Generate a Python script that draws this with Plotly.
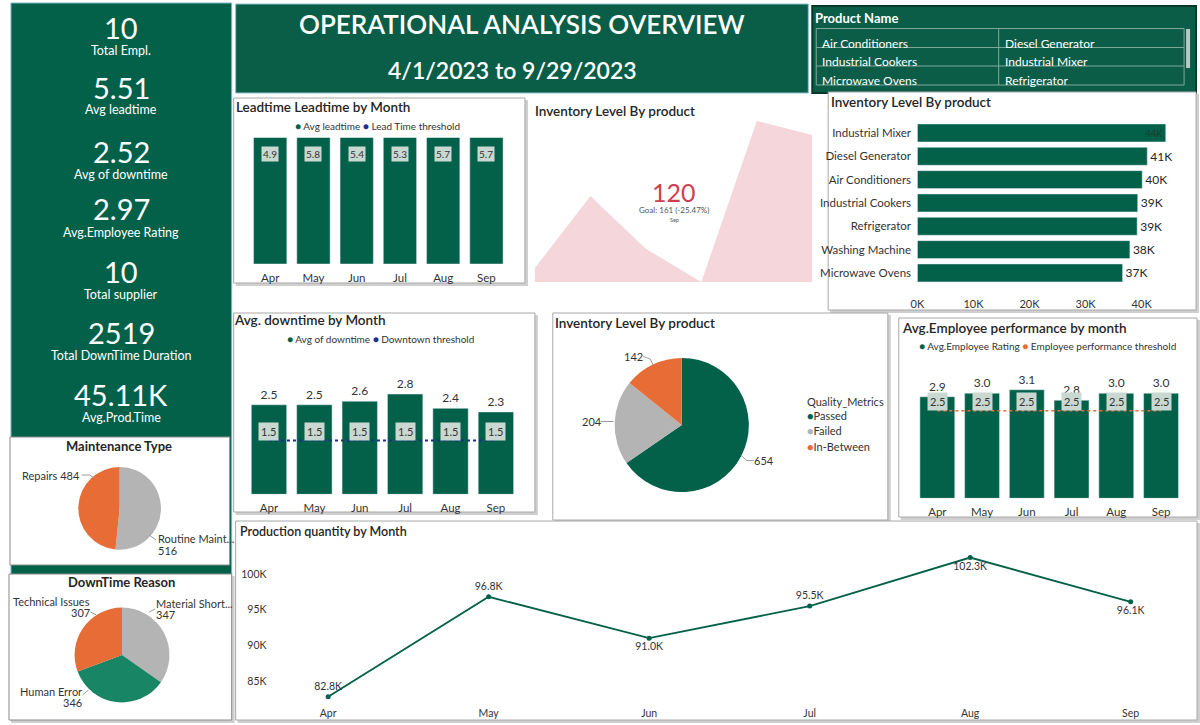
import plotly.graph_objects as go

W, H = 1200, 725
def fx(px): return px / W
def fy(py): return 1 - py / H

FONT = 'Lato'
GREEN = '#03614A'
GREEN2 = '#188565'
ORANGE = '#E86C36'
GRAY = '#B4B4B4'
NAVY = '#1F2E8A'
TXT = '#252525'
BOX = '#C9D8D1'
PINK = '#F5D6DB'
RED = '#D13F52'

# ---------------- data ----------------
months = ['Apr', 'May', 'Jun', 'Jul', 'Aug', 'Sep']
lead_avg = [4.9, 5.8, 5.4, 5.3, 5.7, 5.7]
down_avg = [2.5, 2.5, 2.6, 2.8, 2.4, 2.3]
down_thr = [1.5, 1.5, 1.5, 1.5, 1.5, 1.5]
emp_avg = [2.9, 3.0, 3.1, 2.8, 3.0, 3.0]
emp_thr = [2.5, 2.5, 2.5, 2.5, 2.5, 2.5]
prod_qty = [82800, 96800, 91000, 95500, 102300, 96100]

inv_products = ['Industrial Mixer', 'Diesel Generator', 'Air Conditioners', 'Industrial Cookers',
                'Refrigerator', 'Washing Machine', 'Microwave Ovens']
inv_levels = [44300, 41000, 40100, 39300, 39200, 37900, 36600]

inv_trend = [72, 98, 79, 67, 125, 120]
inv_current = 120
inv_goal = 161

quality_labels = ['Passed', 'Failed', 'In-Between']
quality_values = [654, 204, 142]

maint_labels = ['Routine Maintenance', 'Repairs']
maint_values = [516, 484]

reason_labels = ['Material Shortage', 'Human Error', 'Technical Issues']
reason_values = [347, 346, 307]

kpi_values = ['10', '5.51', '2.52', '2.97', '10', '2519', '45.11K']
kpi_labels = ['Total Empl.', 'Avg leadtime', 'Avg of downtime', 'Avg.Employee Rating',
              'Total supplier', 'Total DownTime Duration', 'Avg.Prod.Time']

slicer_products = ['Air Conditioners', 'Diesel Generator', 'Industrial Cookers',
                   'Industrial Mixer', 'Microwave Ovens', 'Refrigerator']

# ---------------- helpers ----------------
fig = go.Figure()
shapes = []
ann = []

def rect(x0, y0, x1, y1, fill='white', line='#A8A8A8', width=1, shadow=True):
    if shadow:
        shapes.append(dict(type='rect', xref='paper', yref='paper', x0=fx(x0 + 2), x1=fx(x1 + 3),
                           y0=fy(y1 + 3), y1=fy(y0 + 2), fillcolor='#CFCFCF', line=dict(width=0), layer='below'))
    shapes.append(dict(type='rect', xref='paper', yref='paper', x0=fx(x0), x1=fx(x1),
                       y0=fy(y1), y1=fy(y0), fillcolor=fill, line=dict(color=line, width=width), layer='below'))

def hline(x0, x1, y, color, width=1):
    shapes.append(dict(type='line', xref='paper', yref='paper', x0=fx(x0), x1=fx(x1), y0=fy(y), y1=fy(y),
                       line=dict(color=color, width=width)))

def vline(x, y0, y1, color, width=1):
    shapes.append(dict(type='line', xref='paper', yref='paper', x0=fx(x), x1=fx(x), y0=fy(y0), y1=fy(y1),
                       line=dict(color=color, width=width)))

def seg(x0, y0, x1, y1, color='#9A9A9A'):
    shapes.append(dict(type='line', xref='paper', yref='paper', x0=fx(x0), x1=fx(x1), y0=fy(y0), y1=fy(y1),
                       line=dict(color=color, width=1)))

def text(px, py, s, size=12, color=TXT, xanchor='center', weight=None, **kw):
    f = dict(family=FONT, size=size, color=color)
    if weight:
        f['weight'] = weight
    if xanchor == 'left':
        px -= 2
    elif xanchor == 'right':
        px += 2
    ann.append(dict(x=fx(px), y=fy(py), xref='paper', yref='paper', text=s, showarrow=False,
                    xanchor=xanchor, yanchor='middle', font=f, **kw))

def dot(c):
    return f"<span style='color:{c}'>●</span>"

# ---------------- panels ----------------
rect(4, 3, 226, 576, fill=GREEN, line='#7FB7C8', shadow=False)
rect(230, 4, 806, 93, fill='#0A5E48', line='#8FC3D3', shadow=False)
rect(810, 6, 1196, 93, fill='#0C5D48', line='#06392C', width=2, shadow=False)
rect(228, 98, 521, 283)
rect(826, 92, 1196, 310)
rect(228, 313, 531, 512)
rect(549, 313, 886, 520)
rect(897, 318, 1197, 517)
rect(230, 521, 1197, 720)
rect(3, 437, 224, 565, shadow=False, line='#8A8A8A')
rect(2, 574, 226, 720, line='#8A8A8A')

# ---------------- KPI texts ----------------
kpi_num_y = [28, 87, 151, 209, 272, 332, 394]
kpi_lab_y = [51, 110, 174, 232, 294, 355, 418]
for v, l, yn, yl in zip(kpi_values, kpi_labels, kpi_num_y, kpi_lab_y):
    text(115, yn, v, size=29, color='white')
    text(115, yl, l, size=12.5, color='white')

# ---------------- Title ----------------
text(518, 24, 'OPERATIONAL ANALYSIS OVERVIEW', size=26, color='white', weight=600)
text(508, 70, '4/1/2023 to 9/29/2023', size=23, color='white', weight=600)

# ---------------- Slicer ----------------
text(813, 18, 'Product Name', size=13, color='white', xanchor='left', weight=700)
for yy in [28.5, 47.5, 66, 85]:
    hline(814, 1184, yy, '#7FA898')
vline(814, 28.5, 85, '#7FA898')
vline(1184, 28.5, 85, '#7FA898')
vline(997.5, 28.5, 85, '#7FA898')
shapes.append(dict(type='rect', xref='paper', yref='paper', x0=fx(1186), x1=fx(1190), y0=fy(68), y1=fy(29),
                   fillcolor='#B8C8C2', line=dict(width=0)))
slicer_pos = [(820, 43), (1004, 43), (820, 61.5), (1004, 61.5), (820, 80.5), (1004, 80.5)]
for name, (px, py) in zip(slicer_products, slicer_pos):
    text(px, py, name, size=12, color='white', xanchor='left')

# ---------------- Leadtime chart ----------------
fig.add_trace(go.Bar(x=months, y=lead_avg, marker_color=GREEN, width=0.77, xaxis='x', yaxis='y',
                     hoverinfo='skip', showlegend=False))
text(230, 106.5, 'Leadtime Leadtime by Month', size=13.5, xanchor='left', weight=600)
text(373, 125.5, f"{dot(GREEN)} Avg leadtime {dot(NAVY)} Lead Time threshold", size=10, color='#333')
for m, v in zip(months, lead_avg):
    ann.append(dict(x=m, xref='x', y=fy(146), yref='paper', text=f'{v:.1f}', showarrow=False,
                    bgcolor=BOX, borderpad=1, font=dict(family=FONT, size=10, color='#333')))

# ---------------- Inventory KPI area ----------------
fig.add_trace(go.Scatter(x=list(range(len(months))), y=inv_trend, mode='lines', fill='tozeroy',
                         line=dict(width=0, color=PINK), fillcolor=PINK, xaxis='x2', yaxis='y2',
                         hoverinfo='skip', showlegend=False))
text(531, 111, 'Inventory Level By product', size=13.5, xanchor='left', weight=600)
text(671, 192, f'{inv_current}', size=25, color=RED)
pct = (inv_current - inv_goal) / inv_goal * 100
text(671, 210.5, f'Goal: {inv_goal} ({pct:.2f}%)', size=8, color='#555')
text(671, 219.5, months[-1], size=5.5, color='#555')

# ---------------- Inventory bar chart ----------------
inv_text = [f'{v / 1000:.0f}K' for v in inv_levels]
fig.add_trace(go.Bar(y=inv_products, x=inv_levels, orientation='h', marker_color=GREEN, width=0.77,
                     text=inv_text, textposition=['inside'] + ['outside'] * (len(inv_levels) - 1),
                     insidetextanchor='end', insidetextfont=dict(family=FONT, size=12, color='#1F3A30'),
                     outsidetextfont=dict(family=FONT, size=12, color=TXT), cliponaxis=False,
                     xaxis='x3', yaxis='y3', hoverinfo='skip', showlegend=False))
text(829, 101.5, 'Inventory Level By product', size=13.5, xanchor='left', weight=600)

# ---------------- Downtime chart ----------------
fig.add_trace(go.Bar(x=months, y=down_avg, marker_color=GREEN, width=0.78, text=[f'{v:.1f}' for v in down_avg],
                     textposition='outside', textfont=dict(family=FONT, size=12, color='#333'),
                     cliponaxis=False, xaxis='x4', yaxis='y4', hoverinfo='skip', showlegend=False))
fig.add_trace(go.Scatter(x=months, y=down_thr, mode='lines', line=dict(color=NAVY, width=2, dash='dot'),
                         xaxis='x4', yaxis='y4', hoverinfo='skip', showlegend=False))
for m, v in zip(months, down_thr):
    ann.append(dict(x=m, xref='x4', y=v, yref='y4', yshift=9, text=f'{v:.1f}', showarrow=False,
                    bgcolor=BOX, borderpad=2, font=dict(family=FONT, size=11, color='#333')))
text(228, 320, 'Avg. downtime by Month', size=13.5, xanchor='left', weight=600)
text(376, 338.5, f"{dot(GREEN)} Avg of downtime {dot(NAVY)} Downtown threshold", size=10, color='#333')

# ---------------- Quality pie ----------------
fig.add_trace(go.Pie(labels=quality_labels, values=quality_values, sort=False, direction='clockwise',
                     rotation=0, textinfo='none', marker=dict(colors=[GREEN, GRAY, ORANGE], line=dict(width=0)),
                     domain=dict(x=[fx(611.2), fx(746.2)], y=[fy(492.5), fy(357.5)]),
                     hoverinfo='skip', showlegend=False))
text(551, 322.5, 'Inventory Level By product', size=13.5, xanchor='left', weight=600)
q_pos = [(761, 460.5), (588, 421.5), (630, 356.5)]
for v, (px, py) in zip(quality_values, q_pos):
    text(px, py, str(v), size=11, color='#333')
seg(640, 356.5, 647, 359)
seg(647, 359, 650, 365)
seg(597, 421.5, 610, 421.5)
seg(738, 455, 744, 460.5)
seg(744, 460.5, 751, 460.5)
text(805, 401.5, 'Quality_Metrics', size=11, color='#333', xanchor='left')
for lab, c, py in zip(quality_labels, [GREEN, GRAY, ORANGE], [415.5, 430.5, 446]):
    text(805, py, f"{dot(c)}{lab}", size=11, color='#333', xanchor='left')

# ---------------- Employee chart ----------------
fig.add_trace(go.Bar(x=months, y=emp_avg, marker_color=GREEN, width=0.78, text=[f'{v:.1f}' for v in emp_avg],
                     textposition='outside', textfont=dict(family=FONT, size=12, color='#333'),
                     cliponaxis=False, xaxis='x5', yaxis='y5', hoverinfo='skip', showlegend=False))
fig.add_trace(go.Scatter(x=months, y=emp_thr, mode='lines', line=dict(color=ORANGE, width=1.5, dash='3px,3px'),
                         xaxis='x5', yaxis='y5', hoverinfo='skip', showlegend=False))
for m, v in zip(months, emp_thr):
    ann.append(dict(x=m, xref='x5', y=v, yref='y5', yshift=9, text=f'{v:.1f}', showarrow=False,
                    bgcolor=BOX, borderpad=2, font=dict(family=FONT, size=11, color='#333')))
text(900, 327.5, 'Avg.Employee performance by month', size=13.5, xanchor='left', weight=600)
text(1047, 346, f"{dot(GREEN)} Avg.Employee Rating {dot(ORANGE)} Employee performance threshold",
     size=10, color='#333')

# ---------------- Production line ----------------
prod_pos = ['top center', 'top center', 'bottom center', 'top center', 'bottom center', 'bottom center']
fig.add_trace(go.Scatter(x=list(range(len(months))), y=prod_qty, mode='lines+markers+text',
                         line=dict(color=GREEN, width=1.8), marker=dict(color=GREEN, size=5),
                         text=[f'{v / 1000:.1f}K' for v in prod_qty], textposition=prod_pos,
                         textfont=dict(family=FONT, size=10.5, color='#333'), cliponaxis=False,
                         xaxis='x6', yaxis='y6', hoverinfo='skip', showlegend=False))
text(234, 531, 'Production quantity by Month', size=12.5, xanchor='left', weight=600)

# ---------------- Maintenance pie ----------------
fig.add_trace(go.Pie(labels=maint_labels, values=maint_values, sort=False, direction='clockwise',
                     rotation=0, textinfo='none', marker=dict(colors=[GRAY, ORANGE], line=dict(width=0)),
                     domain=dict(x=[fx(71.7), fx(154.9)], y=[fy(549.9), fy(466.7)]),
                     hoverinfo='skip', showlegend=False))
text(113, 445.5, 'Maintenance Type', size=13, weight=700)
text(73, 475, f'{maint_labels[1]} {maint_values[1]}', size=11, color='#333', xanchor='right')
seg(75, 475, 83, 475); seg(83, 475, 88, 478)
text(152, 538, maint_labels[0][:13] + '...', size=11, color='#333', xanchor='left')
text(152, 550, str(maint_values[0]), size=11, color='#333', xanchor='left')
seg(143, 535, 150, 540)

# ---------------- Downtime reason pie ----------------
fig.add_trace(go.Pie(labels=reason_labels, values=reason_values, sort=False, direction='clockwise',
                     rotation=0, textinfo='none', marker=dict(colors=[GRAY, GREEN2, ORANGE], line=dict(width=0)),
                     domain=dict(x=[fx(68), fx(163.4)], y=[fy(702.7), fy(607.3)]),
                     hoverinfo='skip', showlegend=False))
text(115, 582, 'DownTime Reason', size=13, weight=700)
text(83, 601.5, reason_labels[2], size=11, color='#333', xanchor='right')
text(83, 612.5, str(reason_values[2]), size=11, color='#333', xanchor='right')
text(150, 603, reason_labels[0][:14] + '...', size=11, color='#333', xanchor='left')
text(150, 614, str(reason_values[0]), size=11, color='#333', xanchor='left')
text(75, 691.5, reason_labels[1], size=11, color='#333', xanchor='right')
text(75, 702.5, str(reason_values[1]), size=11, color='#333', xanchor='right')
seg(84, 612, 90, 615); seg(143, 612, 149, 609); seg(76, 695, 82, 690)

# ---------------- axes ----------------
tick_font = dict(family=FONT, size=11.5, color='#333')
hidden_y = dict(visible=False, showgrid=False, zeroline=False, fixedrange=True)
cat_x = dict(showgrid=False, zeroline=False, showline=False, tickfont=tick_font, ticks='outside',
             ticklen=3, tickcolor='rgba(0,0,0,0)', fixedrange=True)

layout = dict(
    width=W, height=H, margin=dict(l=0, r=0, t=0, b=0),
    paper_bgcolor='white', plot_bgcolor='rgba(0,0,0,0)',
    font=dict(family=FONT, color=TXT), showlegend=False,
    xaxis=dict(domain=[fx(243), fx(504)], anchor='y', **cat_x),
    yaxis=dict(domain=[fy(264), fy(137.7)], anchor='x', range=[0, 4.85], **hidden_y),
    xaxis2=dict(domain=[fx(531), fx(810)], anchor='y2', range=[0, 5], visible=False, fixedrange=True),
    yaxis2=dict(domain=[fy(282), fy(121)], anchor='x2', range=[67, 125], **hidden_y),
    xaxis3=dict(domain=[fx(915.7), fx(1180)], anchor='y3', range=[0, 46860], showgrid=False, zeroline=False,
                tickvals=[0, 10000, 20000, 30000, 40000], ticktext=['0K', '10K', '20K', '30K', '40K'],
                tickfont=dict(family=FONT, size=11, color='#333'), ticks='outside', ticklen=9,
                tickcolor='rgba(0,0,0,0)', fixedrange=True),
    yaxis3=dict(domain=[fy(284.6), fy(121.3)], anchor='x3', autorange='reversed', showgrid=False,
                zeroline=False, tickfont=dict(family=FONT, size=11.5, color='#333'), ticks='outside',
                ticklen=3, tickcolor='rgba(0,0,0,0)', fixedrange=True),
    xaxis4=dict(domain=[fx(240.7), fx(514.6)], anchor='y4', **cat_x),
    yaxis4=dict(domain=[fy(494.3), fy(355)], anchor='x4', range=[0, 3.89], **hidden_y),
    xaxis5=dict(domain=[fx(913.3), fx(1183.3)], anchor='y5', **cat_x),
    yaxis5=dict(domain=[fy(498.3), fy(360)], anchor='x5', range=[0, 3.95], **hidden_y),
    xaxis6=dict(domain=[fx(262), fx(1190)], anchor='y6', range=[-0.378, 5.37], showgrid=False, zeroline=False,
                tickvals=list(range(len(months))), ticktext=months,
                tickfont=dict(family=FONT, size=10.5, color='#333'), ticks='outside', ticklen=3,
                tickcolor='rgba(0,0,0,0)', fixedrange=True),
    yaxis6=dict(domain=[fy(700), fy(545)], anchor='x6', range=[82340, 104060], showgrid=False, zeroline=False,
                tickvals=[85000, 90000, 95000, 100000], ticktext=['85K', '90K', '95K', '100K'],
                tickfont=dict(family=FONT, size=10.5, color='#333'), fixedrange=True),
    shapes=shapes, annotations=ann,
)
fig.update_layout(**layout)
fig.write_html('out.html', config={'displayModeBar': False},
               post_script="document.documentElement.style.margin='0';document.body.style.margin='0';"
                           "document.body.style.padding='0';document.body.style.overflow='hidden';"
                           "var d=document.getElementById('{plot_id}');d.style.position='fixed';"
                           "d.style.left='0px';d.style.top='0px';")
